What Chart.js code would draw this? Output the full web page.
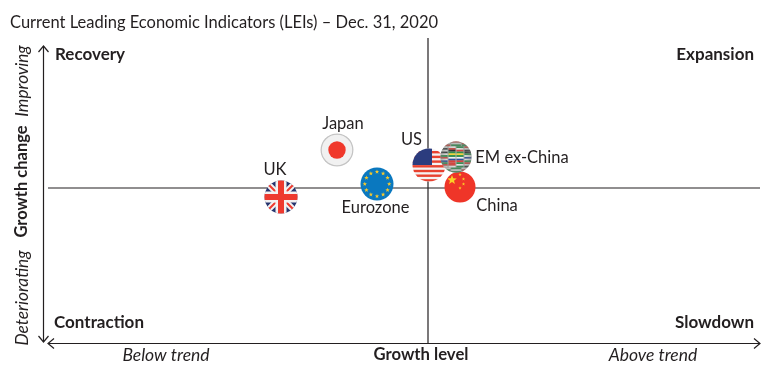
<!DOCTYPE html>
<html>
<head>
<meta charset="utf-8">
<script src="https://cdn.jsdelivr.net/npm/chart.js@4"></script>
<style>
  html, body { margin: 0; padding: 0; background: #fff; }
  #wrap { width: 774px; height: 382px; }
</style>
</head>
<body>
<div id="wrap"><canvas id="grafico" width="774" height="382"></canvas></div>
<script>
const regiones = ["UK", "Japan", "Eurozone", "US", "China", "EM ex-China"];
const nivelCrecimiento = [-1.47, -0.91, -0.51, 0.01, 0.32, 0.28];
const cambioCrecimiento = [-0.09, 0.38, 0.04, 0.23, 0.01, 0.31];
const cuadrantes = ["Recovery", "Expansion", "Contraction", "Slowdown"];
const etiquetasX = ["Below trend", "Growth level", "Above trend"];
const etiquetasY = ["Deteriorating", "Growth change", "Improving"];
const titulo = "Current Leading Economic Indicators (LEIs) – Dec. 31, 2020";

const fuente = "Lato, 'Open Sans', sans-serif";
const tinta = "#231f20";

// each flag is painted on a small canvas and handed to Chart.js as pointStyle
function lienzo(r, pintar) {
  const c = document.createElement("canvas");
  c.width = c.height = r * 2;
  const g = c.getContext("2d");
  g.save();
  g.beginPath();
  g.arc(r, r, r - 0.5, 0, Math.PI * 2);
  g.clip();
  pintar(g, r * 2);
  g.restore();
  return c;
}

function estrella(g, x, y, r, color) {
  g.fillStyle = color;
  g.beginPath();
  for (let i = 0; i < 10; i++) {
    const a = -Math.PI / 2 + i * Math.PI / 5;
    const d = i % 2 ? r * 0.42 : r;
    g.lineTo(x + Math.cos(a) * d, y + Math.sin(a) * d);
  }
  g.closePath();
  g.fill();
}

const banderas = {
  "UK": lienzo(17, (g, s) => {
    g.fillStyle = "#27356f"; g.fillRect(0, 0, s, s);
    g.strokeStyle = "#f3f1f1"; g.lineWidth = 6;
    g.beginPath(); g.moveTo(0, 0); g.lineTo(s, s); g.moveTo(s, 0); g.lineTo(0, s); g.stroke();
    g.strokeStyle = "#ee3a2f"; g.lineWidth = 2;
    g.beginPath(); g.moveTo(0, 0); g.lineTo(s, s); g.moveTo(s, 0); g.lineTo(0, s); g.stroke();
    g.fillStyle = "#f3f1f1"; g.fillRect(s / 2 - 5.5, 0, 11, s); g.fillRect(0, s / 2 - 5.5, s, 11);
    g.fillStyle = "#ee3a2f"; g.fillRect(s / 2 - 3, 0, 6, s); g.fillRect(0, s / 2 - 3, s, 6);
  }),
  "Japan": lienzo(17, (g, s) => {
    g.fillStyle = "#f1f1f1"; g.fillRect(0, 0, s, s);
    g.strokeStyle = "#c4c4c4"; g.lineWidth = 1.6;
    g.beginPath(); g.arc(s / 2, s / 2, s / 2 - 1, 0, Math.PI * 2); g.stroke();
    g.fillStyle = "#f0382b";
    g.beginPath(); g.arc(s / 2, s / 2, 8.7, 0, Math.PI * 2); g.fill();
  }),
  "Eurozone": lienzo(17, (g, s) => {
    g.fillStyle = "#0a78bf"; g.fillRect(0, 0, s, s);
    for (let i = 0; i < 12; i++) {
      const a = i * Math.PI / 6;
      estrella(g, s / 2 + Math.cos(a) * 12.2, s / 2 + Math.sin(a) * 12.2, 2.3, "#f7c92c");
    }
  }),
  "US": lienzo(17, (g, s) => {
    g.fillStyle = "#f4f2f2"; g.fillRect(0, 0, s, s);
    g.fillStyle = "#e8412f";
    for (let i = 0; i < 7; i++) g.fillRect(0, 3 + i * 4.7, s, 2.4);
    g.fillStyle = "#2b3c7e"; g.fillRect(0, 0, 20, 17);
  }),
  "China": lienzo(16, (g, s) => {
    g.fillStyle = "#ef3528"; g.fillRect(0, 0, s, s);
    estrella(g, 8, 9, 5, "#fbd126");
    [[16, 3.5], [19.5, 8], [19.5, 13], [16, 17]].forEach(p => estrella(g, p[0], p[1], 1.7, "#fbd126"));
  }),
  "EM ex-China": lienzo(16, (g, s) => {
    // rows of tiny striped flags, then a shaded edge so it reads as a globe
    const rojo = "#d9433c", verde = "#2f8f4e", blanco = "#f1f1f1", negro = "#2a2c30", azul = "#2d4f9f";
    const filas = [
      [[verde, blanco, rojo], [rojo, blanco, verde], [verde, rojo, verde]],
      [[blanco, negro, blanco], [blanco, rojo, negro], [verde, blanco, rojo], [rojo, blanco, negro]],
      [[negro, blanco, verde], [verde, "#f0d43a", verde], [verde, "#f0d43a", verde], [negro, verde, blanco]],
      [[rojo, blanco, azul], [blanco, azul, rojo], [blanco, azul, rojo], [azul, blanco, verde]],
      [[verde, rojo, blanco], [rojo, rojo, blanco], [verde, blanco, verde], [rojo, blanco, negro]],
      [[blanco, verde, rojo], [verde, blanco, verde], [blanco, rojo, verde]]
    ];
    g.fillStyle = "#aab0ab";
    g.fillRect(0, 0, s, s);
    filas.forEach((fila, i) => {
      const ancho = s / fila.length;
      fila.forEach((bandas, j) => bandas.forEach((color, k) => {
        g.fillStyle = color;
        g.fillRect(j * ancho + 0.5, i * s / 6 + k * 1.7, ancho - 1, 1.8);
      }));
    });
    const brillo = g.createRadialGradient(s / 2, s / 2, s * 0.2, s / 2, s / 2, s / 2);
    brillo.addColorStop(0, "rgba(120,125,120,0)");
    brillo.addColorStop(1, "rgba(120,125,120,0.6)");
    g.fillStyle = brillo;
    g.fillRect(0, 0, s, s);
  })
};

const posEtiquetas = {
  "UK": [-6, -27], "Japan": [6, -26], "Eurozone": [-1.5, 24], "US": [-17.5, -25],
  "China": [37, 19], "EM ex-China": [66, 1]
};

function flecha(g, x, y, dx, dy) {
  g.beginPath();
  g.moveTo(x - dx * 6 - dy * 5, y - dy * 6 - dx * 5);
  g.lineTo(x, y);
  g.lineTo(x - dx * 6 + dy * 5, y - dy * 6 + dx * 5);
  g.stroke();
}

const rotulos = {
  id: "rotulos",
  afterDatasetsDraw(chart) {
    const g = chart.ctx, sx = chart.scales.x, sy = chart.scales.y;
    const izq = chart.chartArea.left, der = chart.chartArea.right, abajo = chart.chartArea.bottom;
    g.save();
    g.strokeStyle = g.fillStyle = tinta;
    g.lineWidth = 1.2;
    g.textBaseline = "middle";

    // outer axes with their arrow heads
    g.beginPath();
    g.moveTo(izq + 1, abajo + 0.5); g.lineTo(der, abajo + 0.5);
    g.moveTo(43.5, 46); g.lineTo(43.5, abajo - 1);
    g.stroke();
    flecha(g, izq, abajo + 0.5, -1, 0);
    flecha(g, der, abajo + 0.5, 1, 0);
    flecha(g, 43.5, 46, 0, -1);
    flecha(g, 43.5, abajo - 1, 0, 1);

    g.font = "16.5px " + fuente;
    g.textAlign = "left";
    g.fillText(titulo, 10, 23);

    g.font = "bold 17px " + fuente;
    g.fillText(cuadrantes[0], 55, 55);
    g.fillText(cuadrantes[2], 54, 323);
    g.textAlign = "right";
    g.fillText(cuadrantes[1], 754, 55);
    g.fillText(cuadrantes[3], 754, 323);

    g.textAlign = "center";
    g.font = "italic 17.5px " + fuente;
    g.fillText(etiquetasX[0], 166, 355);
    g.fillText(etiquetasX[2], 653, 355);
    g.font = "bold 16.7px " + fuente;
    g.fillText(etiquetasX[1], 421, 355);

    [[etiquetasY[0], 298, "italic 17.3px "], [etiquetasY[1], 181.5, "bold 16.5px "], [etiquetasY[2], 81, "italic 17.3px "]].forEach(e => {
      g.save();
      g.translate(22, e[1]);
      g.rotate(-Math.PI / 2);
      g.font = e[2] + fuente;
      g.fillText(e[0], 0, 0);
      g.restore();
    });

    g.font = "16.5px " + fuente;
    regiones.forEach((nombre, i) => {
      const p = posEtiquetas[nombre];
      g.fillText(nombre,
        sx.getPixelForValue(nivelCrecimiento[i]) + p[0],
        sy.getPixelForValue(cambioCrecimiento[i]) + p[1]);
    });
    g.restore();
  }
};

const puntos = regiones.map((r, i) => ({ x: nivelCrecimiento[i], y: cambioCrecimiento[i] }));

new Chart(document.getElementById("grafico"), {
  type: "scatter",
  data: {
    datasets: [
      {
        data: puntos,
        pointStyle: regiones.map(r => banderas[r]),
        pointRadius: 17,
        pointHoverRadius: 17,
        order: 0
      },
      {
        type: "line",
        data: [{ x: -3.8, y: 0 }, { x: 3.32, y: 0 }],
        borderColor: tinta, borderWidth: 1.2, pointRadius: 0, order: 1
      },
      {
        type: "line",
        data: [{ x: 0, y: -1.55 }, { x: 0, y: 1.5 }],
        borderColor: tinta, borderWidth: 1.2, pointRadius: 0, order: 1
      }
    ]
  },
  options: {
    responsive: false,
    animation: false,
    layout: { autoPadding: false, padding: { left: 48, right: 14, top: 38, bottom: 39 } },
    plugins: { legend: { display: false }, tooltip: { enabled: false } },
    scales: {
      x: { type: "linear", min: -3.8, max: 3.32, display: false },
      y: { type: "linear", min: -1.55, max: 1.5, display: false }
    }
  },
  plugins: [rotulos]
});
</script>
</body>
</html>
